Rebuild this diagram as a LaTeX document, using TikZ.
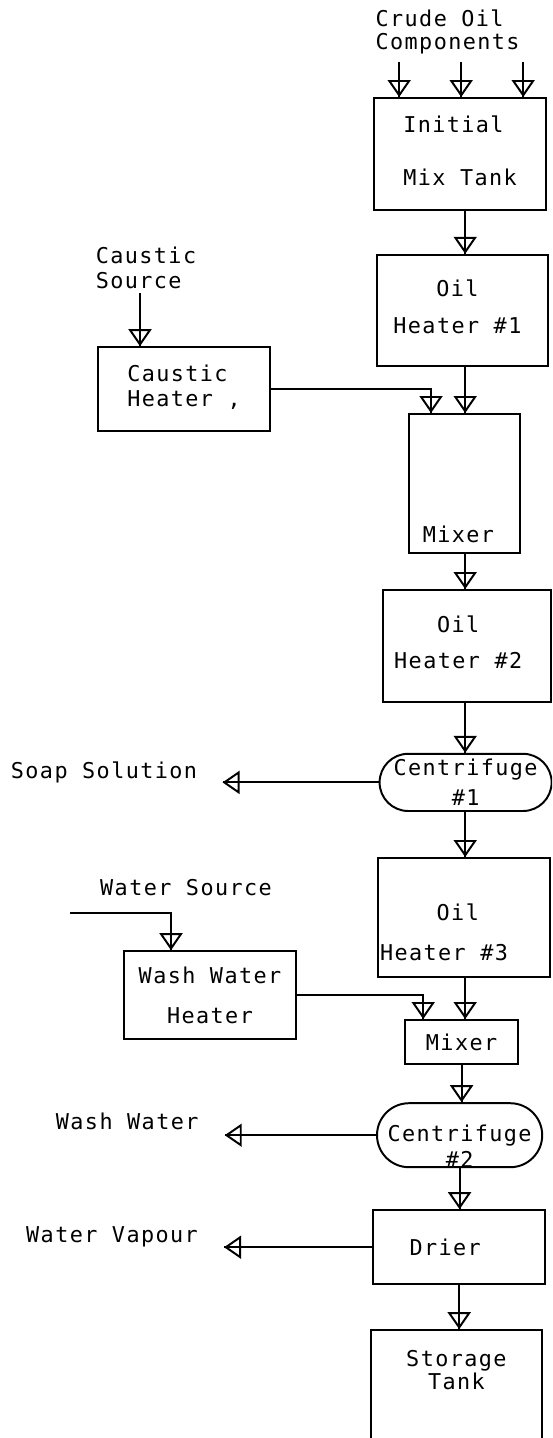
\documentclass[tikz,border=0pt]{standalone}
\usepackage{fontspec}
\usepackage{tikz}
\usetikzlibrary{arrows.meta,shapes.misc}

\newfontfamily\prnfont{DejaVu Sans Mono}[LetterSpace=6.5]
\newcommand{\flowfont}{\prnfont\fontsize{15.5pt}{16.4pt}\selectfont}

\begin{document}
\begin{tikzpicture}[
        block/.style={
            rectangle,
            draw,
            line width=1.4pt,
            align=center,
            inner sep=0.05cm,
            font=\flowfont
        },
        spinner/.style={
            rounded rectangle,
            draw,
            line width=1.4pt,
            align=center,
            inner sep=0.05cm,
            minimum height=1.43cm,
            font=\flowfont
        },
        tag/.style={
            align=left,
            inner sep=0pt,
            font=\flowfont
        },
        flow/.style={
            -{Triangle[open,width=0.575cm,length=0.425cm]},
            line width=1.4pt,
            postaction={draw,-}
        }
    ]

        \clip (0,0) rectangle (13.8,-35.95);

        % feed side
        \node[tag] (crude) at (11.19,-0.79) {Crude Oil\\Components};
        \coordinate (c1) at (9.98,-1.55);
        \coordinate (c2) at (11.53,-1.55);
        \coordinate (c3) at (13.08,-1.55);
        \coordinate (trunk) at (11.63,0);

        \node[block,minimum width=4.3cm,minimum height=2.8cm] (mixtank) at (11.5,-3.85) {\begin{tabular}{@{}l@{}}Initial\\[20.6pt]Mix Tank\end{tabular}};
        \node[block,minimum width=4.28cm,minimum height=2.78cm] (heat1) at (11.56,-7.76) {\begin{tabular}{@{}c@{}}Oil\\[9.9pt]Heater \#1\end{tabular}\hspace{0.25cm}};

        \node[tag] (caussrc) at (3.65,-6.69) {Caustic\\[1.4pt]Source};
        \coordinate (cs) at (3.5,-7.33);
        \node[block,minimum width=4.3cm,minimum height=2.1cm] (caus) at (4.6,-9.73) {\begin{tabular}{@{}l@{}}Caustic\\[2pt]Heater ,\end{tabular}};

        \node[block,minimum width=2.78cm,inner ysep=0pt,text height=3.2cm,text depth=0.28cm] (mix1) at (11.61,-12.09) {Mixer\hspace{0.3cm}};
        \node[block,minimum width=4.2cm,minimum height=2.8cm] (heat2) at (11.68,-16.15) {\begin{tabular}{@{}c@{}}Oil\\[9.2pt]Heater \#2\end{tabular}\hspace{0.45cm}};
        \node[spinner,minimum width=4.28cm] (cen1) at (11.64,-19.56) {Centrifuge\\[5pt]\#1};
        \node[tag] (soap) at (2.6,-19.3) {Soap Solution};

        % wash side
        \node[block,text width=4.2cm,align=left,minimum height=2.98cm] (heat3) at (11.6,-22.94) {\raisebox{-0.57cm}[0pt][0pt]{\begin{tabular}{@{}l@{}}\phantom{Heat}Oil\\[12pt]Heater\hspace{10.3pt}\#3\end{tabular}}};
        \node[tag] (watsrc) at (4.65,-22.18) {Water Source};
        \coordinate (ws) at (1.75,-22.83);
        \node[block,minimum width=4.3cm,minimum height=2.2cm] (wash) at (5.25,-24.88) {Wash Water\\[12pt]Heater};
        \node[block,minimum width=2.83cm,minimum height=1.1cm] (mix2) at (11.54,-26.05) {Mixer};
        \node[spinner,minimum width=4.23cm,minimum height=1.6cm] (cen2) at (11.49,-28.38) {\raisebox{-0.48cm}[0pt][0pt]{\begin{tabular}{@{}c@{}}Centrifuge\\[2pt]\#2\end{tabular}}};
        \node[tag] (washout) at (3.18,-28.03) {Wash Water};

        \node[block,minimum width=4.3cm,minimum height=1.85cm] (drier) at (11.48,-31.18) {Drier\hspace{0.7cm}};
        \node[tag] (vapour) at (2.8,-30.93) {Water Vapour};
        \node[block,anchor=north,minimum width=4.28cm,minimum height=3.5cm] (store) at (11.41,-33.23) {\raisebox{0.55cm}[0pt][0pt]{\begin{tabular}{@{}c@{}}Storage\\Tank\end{tabular}}};

        \draw[flow] (c1) -- (c1 |- mixtank.north);
        \draw[flow] (c2) -- (c2 |- mixtank.north);
        \draw[flow] (c3) -- (c3 |- mixtank.north);
        \draw[flow] (trunk |- mixtank.south) -- (trunk |- heat1.north);
        \draw[flow] (cs) -- (cs |- caus.north);
        \draw[flow] (trunk |- heat1.south) -- (trunk |- mix1.north);
        \draw[flow] (caus.east) -| ([xshift=0.58cm]mix1.north west);
        \draw[flow] (trunk |- mix1.south) -- (trunk |- heat2.north);
        \draw[flow] (trunk |- heat2.south) -- (trunk |- cen1.north);
        \draw[flow] (cen1.west) -- ([xshift=0.63cm]soap.east |- cen1.west);
        \draw[flow] (trunk |- cen1.south) -- (trunk |- heat3.north);
        \draw[flow] (ws) -| ([xshift=1.2cm]wash.north west);
        \draw[flow] (wash.east) -| ([xshift=0.48cm]mix2.north west);
        \draw[flow] (trunk |- heat3.south) -- (trunk |- mix2.north);
        \draw[flow] (mix2.south) -- (mix2.south |- cen2.north);
        \draw[flow] (cen2.west) -- ([xshift=0.65cm]washout.east |- cen2.west);
        \draw[flow] (cen2.south) -- (cen2.south |- drier.north);
        \draw[flow] (drier.west) -- ([xshift=0.65cm]vapour.east |- drier.west);
        \draw[flow] (drier.south) -- (drier.south |- store.north);

    \end{tikzpicture}
\end{document}
